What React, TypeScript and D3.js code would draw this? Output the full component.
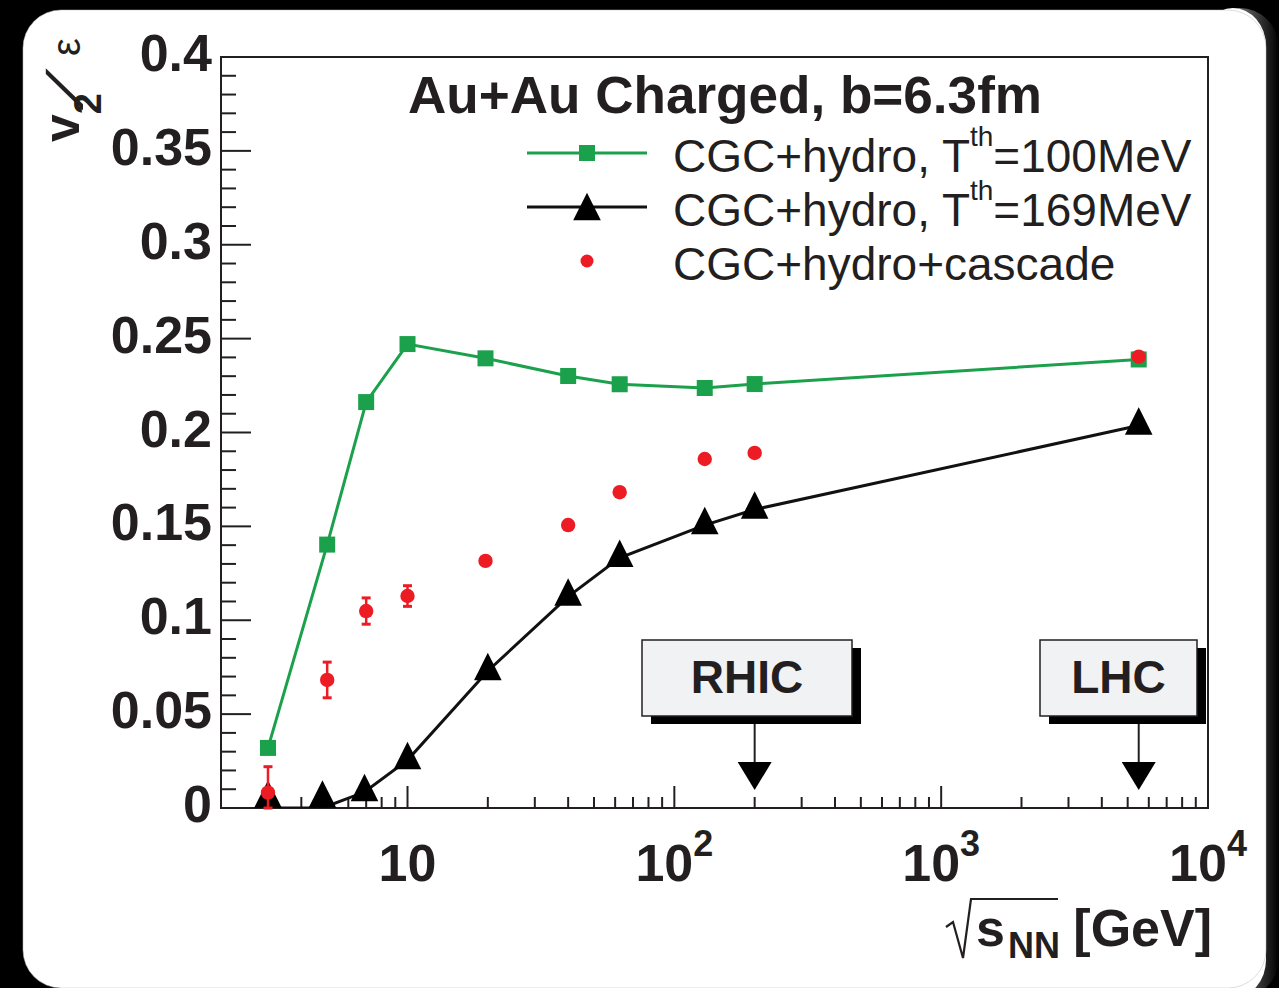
import React from 'react';
import * as d3 from 'd3';

// ---- data ----
const energiesGreen = [3, 5, 7, 10, 19.6, 40, 62.4, 130, 200, 5500];
const v2Green = [0.032, 0.1403, 0.2162, 0.2471, 0.2395, 0.2301, 0.2257, 0.2237, 0.2258, 0.2389];

const energiesBlack = [3, 4.8, 6.9, 10, 20, 40, 62.4, 130, 200, 5500];
const v2Black = [0, 0, 0.0085, 0.0255, 0.073, 0.1126, 0.1332, 0.1507, 0.159, 0.2037];

const energiesRed = [3, 5, 7, 10, 19.6, 40, 62.4, 130, 200, 5500];
const v2Red = [0.0082, 0.0682, 0.1049, 0.1129, 0.1316, 0.1507, 0.1682, 0.1859, 0.1891, 0.2404];
const errRed = [0.0138, 0.0095, 0.007, 0.0055, 0, 0, 0, 0, 0, 0];

const yTickValues = [0, 0.05, 0.1, 0.15, 0.2, 0.25, 0.3, 0.35, 0.4];
const yTickLabels = ['0', '0.05', '0.1', '0.15', '0.2', '0.25', '0.3', '0.35', '0.4'];
const xMajorValues = [10, 100, 1000, 10000];
const xMajorExponents = ['', '2', '3', '4'];

const legendLabels = ['CGC+hydro, T', 'CGC+hydro, T', 'CGC+hydro+cascade'];
const legendSup = ['th', 'th', ''];
const legendTail = ['=100MeV', '=169MeV', ''];

const annotationLabels = ['RHIC', 'LHC'];
const annotationEnergies = [200, 5500];

// ---- layout ----
const W = 1279, H = 988;
const L = 221, R = 1208, T = 57, B = 808;
const boxGeom = [
  { x0: 642, x1: 852, y0: 640, y1: 716 },
  { x0: 1040, x1: 1197, y0: 640, y1: 716 },
];
const INK = '#231f20';
const GREEN = '#1ba14b';
const RED = '#ed1c24';
const FONT = '"Liberation Sans", Arial, Helvetica, sans-serif';

function triPath(cx: number, cy: number) {
  return `M${cx},${cy - 18.3} L${cx + 13.8},${cy + 9.2} L${cx - 13.8},${cy + 9.2} Z`;
}

export default function App() {
  const xs = d3.scaleLog().domain([2, 10000]).range([L, R]);
  const ys = d3.scaleLinear().domain([0, 0.4]).range([B, T]);
  const line = d3.line<[number, number]>().x(d => xs(d[0])).y(d => ys(d[1]));

  const green: [number, number][] = energiesGreen.map((e, i) => [e, v2Green[i]]);
  const black: [number, number][] = energiesBlack.map((e, i) => [e, v2Black[i]]);

  const xMinor: number[] = [];
  [1, 10, 100, 1000].forEach(d => {
    for (let k = 2; k <= 9; k++) {
      const v = d * k;
      if (v >= 2 && v < 10000) xMinor.push(v);
    }
  });
  const yMinor = d3.range(0, 41).map(i => i * 0.01).filter(v => Math.abs(v * 20 - Math.round(v * 20)) > 1e-6);

  return (
    <svg width={W} height={H} style={{ position: 'absolute', left: 0, top: 0, display: 'block' }} fontFamily={FONT}>
      <defs>
        <linearGradient id="shade" x1="0" x2="1" y1="0" y2="0">
          <stop offset="0" stopColor="#d8d8d8" />
          <stop offset="1" stopColor="#000" />
        </linearGradient>
        <clipPath id="frame">
          <rect x={L} y={T} width={R - L} height={B - T} />
        </clipPath>
      </defs>
      <rect x={0} y={0} width={W} height={H} fill="#000" />
      <rect x={1200} y={8} width={79} height={990} rx={40} fill="url(#shade)" />
      <rect x={1200} y={8} width={66} height={990} rx={38} fill="#fff" />
      <rect x={23} y={10} width={1243} height={978} rx={38} fill="#fff" />
      <rect x={23} y={10} width={1243} height={978} rx={38} fill="none" stroke="#bbb" strokeWidth={0.5} />

      {/* y ticks */}
      {yTickValues.map(v => (
        <line key={'ym' + v} x1={L} x2={L + 30} y1={ys(v)} y2={ys(v)} stroke={INK} strokeWidth={2} />
      ))}
      {yMinor.map(v => (
        <line key={'yn' + v} x1={L} x2={L + 15} y1={ys(v)} y2={ys(v)} stroke={INK} strokeWidth={2} />
      ))}
      {/* x ticks */}
      {xMajorValues.map(v => (
        <line key={'xm' + v} x1={xs(v)} x2={xs(v)} y1={B} y2={B - 22} stroke={INK} strokeWidth={2} />
      ))}
      {xMinor.map(v => (
        <line key={'xn' + v} x1={xs(v)} x2={xs(v)} y1={B} y2={B - 11} stroke={INK} strokeWidth={2} />
      ))}

      {/* frame */}
      <rect x={L} y={T} width={R - L} height={B - T} fill="none" stroke={INK} strokeWidth={2} />

      {/* y tick labels */}
      {yTickValues.map((v, i) => (
        <text key={'yl' + v} x={212} y={ys(v) + 14} textAnchor="end" fontSize={52} fontWeight="bold" fill={INK}>
          {yTickLabels[i]}
        </text>
      ))}
      {/* x tick labels */}
      {xMajorValues.map((v, i) => (
        <text key={'xl' + v} x={xs(v)} y={881} textAnchor="middle" fontSize={52} fontWeight="bold" fill={INK}>
          10{xMajorExponents[i] ? <tspan dy={-25} fontSize={36}>{xMajorExponents[i]}</tspan> : null}
        </text>
      ))}

      {/* y axis title: v_2 / ε */}
      <text transform="translate(79,142) rotate(-90)" fill={INK} fontWeight="bold">
        <tspan fontSize={50}>v</tspan>
        <tspan fontSize={38} dy={22}>2</tspan>
      </text>
      <text transform="translate(82,110) rotate(-90) skewX(-38)" fill={INK} fontWeight="bold" fontSize={50}>/</text>
      <text transform="translate(80,56) rotate(-90)" fill={INK} fontSize={40}>ε</text>

      {/* x axis title */}
      <path d="M946,927 L953,922 L963,958 L971,899 L1058,899" fill="none" stroke={INK} strokeWidth={2.2} strokeLinejoin="miter" />
      <text x={976} y={946} fontSize={52} fontWeight="bold" fill={INK}>s</text>
      <text x={1008} y={958} fontSize={36} fontWeight="bold" fill={INK}>NN</text>
      <text x={1212} y={946} textAnchor="end" fontSize={52} fontWeight="bold" fill={INK}>[GeV]</text>

      {/* title */}
      <text x={408} y={113} fontSize={51} fontWeight="bold" fill={INK} textLength={634} lengthAdjust="spacingAndGlyphs">Au+Au Charged, b=6.3fm</text>

      {/* legend */}
      <line x1={527} x2={647} y1={153} y2={153} stroke={GREEN} strokeWidth={3} />
      <rect x={579} y={145} width={16} height={16} fill={GREEN} />
      <line x1={527} x2={647} y1={207} y2={207} stroke="#111" strokeWidth={3} />
      <path d={triPath(587, 211)} fill="#000" />
      <circle cx={587} cy={261} r={6.5} fill={RED} />
      {legendLabels.map((t, i) => (
        <text key={'lg' + i} x={673} y={172 + i * 54} fontSize={46} fill={INK}>
          {t}
          {legendSup[i] ? <tspan dy={-26} fontSize={28}>{legendSup[i]}</tspan> : null}
          {legendTail[i] ? <tspan dy={26}>{legendTail[i]}</tspan> : null}
        </text>
      ))}

      {/* annotations */}
      {annotationLabels.map((lab, i) => {
        const g = boxGeom[i];
        const ax = xs(annotationEnergies[i]);
        return (
          <g key={'an' + i}>
            <rect x={g.x0 + 9} y={g.y0 + 8} width={g.x1 - g.x0} height={g.y1 - g.y0} fill="#000" />
            <rect x={g.x0} y={g.y0} width={g.x1 - g.x0} height={g.y1 - g.y0} fill="#f1f2f4" stroke={INK} strokeWidth={1.5} />
            <text x={(g.x0 + g.x1) / 2} y={g.y0 + 53} textAnchor="middle" fontSize={46} fontWeight="bold" fill={INK}>{lab}</text>
            <line x1={ax} x2={ax} y1={g.y1 + 8} y2={763} stroke={INK} strokeWidth={2} />
            <path d={`M${ax - 17},762 L${ax + 17},762 L${ax},790 Z`} fill="#000" />
          </g>
        );
      })}

      {/* curves */}
      <g clipPath="url(#frame)">
        <path d={line(green) || ''} fill="none" stroke={GREEN} strokeWidth={3} />
        <path d={line(black) || ''} fill="none" stroke="#111" strokeWidth={3} />
      </g>
      {green.map((d, i) => (
        <rect key={'gs' + i} x={xs(d[0]) - 8} y={ys(d[1]) - 8} width={16} height={16} fill={GREEN} />
      ))}
      {black.map((d, i) => {
        const cy = Math.min(ys(d[1]), ys(0) - 9.5);
        return <path key={'bt' + i} d={triPath(xs(d[0]), cy)} fill="#000" />;
      })}
      {energiesRed.map((e, i) => {
        const cx = xs(e);
        const cy = ys(v2Red[i]);
        const err = errRed[i];
        const yTop = ys(v2Red[i] + err);
        const yBot = ys(Math.max(0, v2Red[i] - err));
        return (
          <g key={'rd' + i}>
            {err > 0 ? (
              <g stroke={RED} strokeWidth={2.5}>
                <line x1={cx} x2={cx} y1={yTop} y2={yBot} />
                <line x1={cx - 4.5} x2={cx + 4.5} y1={yTop} y2={yTop} strokeWidth={3} />
                <line x1={cx - 4.5} x2={cx + 4.5} y1={yBot} y2={yBot} strokeWidth={3} />
              </g>
            ) : null}
            <circle cx={cx} cy={cy} r={7.2} fill={RED} />
          </g>
        );
      })}
    </svg>
  );
}
